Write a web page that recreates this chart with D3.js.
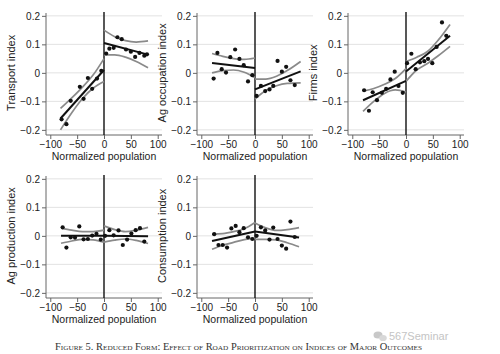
<!DOCTYPE html>
<html>
<head>
<meta charset="utf-8">
<script src="https://cdn.jsdelivr.net/npm/d3@7"></script>
<style>
  body { margin: 0; background: #fff; }
  svg { display: block; font-family: 'Liberation Sans', Arial, sans-serif; }
</style>
</head>
<body>
<div id="root"></div>
<script>
// ---- data ----
const yTicks = [-0.2, -0.1, 0, 0.1, 0.2];
const xTicks = [-100, -50, 0, 50, 100];
const xLabel = 'Normalized population';
const caption = 'Figure 5. Reduced Form: Effect of Road Prioritization on Indices of Major Outcomes';

const titles = ['Transport index', 'Ag occupation index', 'Firms index', 'Ag production index', 'Consumption index'];

// binned means
const transportPts = [[-79, -0.163], [-70, -0.18], [-62, -0.098], [-45, -0.049], [-38, -0.091], [-30, -0.018], [-22, -0.056], [-13, -0.02], [-5, 0.007],
  [4, 0.068], [10, 0.085], [18, 0.088], [25, 0.125], [33, 0.118], [41, 0.082], [50, 0.074], [58, 0.056], [66, 0.07], [75, 0.06], [80, 0.065]];
const agOccPts = [[-77, -0.02], [-70, 0.07], [-62, 0.013], [-54, 0.001], [-46, 0.055], [-37, 0.082], [-29, 0.049], [-21, 0.027], [-13, -0.03], [-5, -0.008],
  [3, -0.081], [11, -0.046], [19, -0.064], [27, -0.058], [34, -0.046], [42, 0.042], [50, 0.004], [58, 0.021], [66, -0.026], [74, -0.043]];
const firmsPts = [[-78, -0.061], [-69, -0.133], [-62, -0.068], [-54, -0.096], [-45, -0.07], [-37, -0.056], [-29, -0.023], [-21, 0.004], [-14, -0.046], [-6, -0.07],
  [2, 0.034], [10, 0.067], [18, 0.013], [26, 0.037], [34, 0.041], [41, 0.049], [49, 0.034], [57, 0.091], [67, 0.177], [75, 0.13]];
const agProdPts = [[-77, 0.03], [-70, -0.041], [-62, -0.005], [-54, -0.006], [-46, 0.033], [-38, -0.012], [-30, -0.011], [-22, 0.001], [-14, 0.007], [-6, -0.013],
  [2, 0.0], [10, 0.02], [18, 0.002], [27, 0.019], [35, -0.032], [43, -0.013], [51, 0.008], [59, 0.02], [67, 0.027], [75, -0.02]];
const consPts = [[-76, 0.006], [-68, -0.032], [-60, -0.032], [-52, -0.041], [-44, 0.026], [-36, 0.035], [-29, 0.013], [-21, 0.027], [-13, -0.005], [-5, -0.011],
  [3, 0.0], [11, 0.03], [19, 0.019], [27, -0.013], [34, 0.029], [42, -0.011], [50, -0.034], [58, -0.045], [66, 0.05], [74, -0.004]];

// fitted lines, left and right of the cutoff
const transportFit = [[[-81, -0.16], [0, 0.01]], [[0, 0.105], [82, 0.064]]];
const agOccFit = [[[-80, 0.035], [0, 0.017]], [[0, -0.058], [85, 0.005]]];
const firmsFit = [[[-80, -0.096], [0, -0.028]], [[0, 0.005], [82, 0.13]]];
const agProdFit = [[[-80, 0.0], [0, 0.0]], [[0, 0.0], [82, -0.001]]];
const consFit = [[[-80, -0.018], [0, 0.015]], [[0, 0.015], [82, -0.006]]];

// confidence bands: [left upper, left lower, right upper, right lower]
const transportCI = [
  [[-81, -0.125], [-60, -0.088], [-40, -0.05], [-20, -0.007], [0, 0.05]],
  [[-81, -0.2], [-60, -0.14], [-40, -0.09], [-20, -0.053], [0, -0.03]],
  [[0, 0.15], [20, 0.127], [40, 0.113], [60, 0.108], [82, 0.112]],
  [[0, 0.063], [20, 0.063], [40, 0.055], [60, 0.04], [82, 0.018]]];
const agOccCI = [
  [[-80, 0.068], [-60, 0.058], [-40, 0.05], [-20, 0.047], [0, 0.052]],
  [[-80, 0.0], [-60, 0.008], [-40, 0.01], [-20, 0.002], [0, -0.017]],
  [[0, -0.022], [20, -0.022], [40, -0.012], [60, 0.008], [85, 0.04]],
  [[0, -0.092], [20, -0.062], [40, -0.045], [60, -0.037], [85, -0.035]]];
const firmsCI = [
  [[-80, -0.064], [-60, -0.055], [-40, -0.04], [-20, -0.02], [0, 0.015]],
  [[-80, -0.135], [-60, -0.1], [-40, -0.072], [-20, -0.06], [0, -0.067]],
  [[0, 0.04], [20, 0.055], [40, 0.075], [60, 0.115], [82, 0.17]],
  [[0, -0.03], [20, 0.01], [40, 0.033], [60, 0.06], [82, 0.093]]];
const agProdCI = [
  [[-80, 0.027], [-60, 0.02], [-40, 0.015], [-20, 0.015], [0, 0.02]],
  [[-80, -0.026], [-60, -0.018], [-40, -0.012], [-20, -0.014], [0, -0.022]],
  [[0, 0.035], [20, 0.022], [40, 0.015], [60, 0.02], [82, 0.03]],
  [[0, -0.022], [20, -0.015], [40, -0.011], [60, -0.016], [82, -0.027]]];
const consCI = [
  [[-80, 0.006], [-60, 0.008], [-40, 0.015], [-20, 0.025], [0, 0.047]],
  [[-80, -0.047], [-60, -0.033], [-40, -0.023], [-20, -0.013], [0, -0.008]],
  [[0, 0.045], [20, 0.028], [40, 0.019], [60, 0.022], [82, 0.029]],
  [[0, -0.012], [20, -0.012], [40, -0.014], [60, -0.024], [82, -0.038]]];

const panelPts = [transportPts, agOccPts, firmsPts, agProdPts, consPts];
const panelFit = [transportFit, agOccFit, firmsFit, agProdFit, consFit];
const panelCI = [transportCI, agOccCI, firmsCI, agProdCI, consCI];

// ---- layout ----
const width = 500;
const height = 354;
const colLeft = [46, 197, 348];
const rowTop = [13, 176];
const plotW = 116;
const plotH = 122;

const svg = d3.select('#root')
  .append('svg')
  .attr('width', width)
  .attr('height', height)
  .attr('viewBox', [0, 0, width, height]);

svg.append('rect').attr('width', width).attr('height', height).attr('fill', '#fff');

function drawPanel(i) {
  const left = colLeft[i % 3];
  const top = rowTop[Math.floor(i / 3)];

  const xScale = d3.scaleLinear().domain([-108, 108]).range([left, left + plotW]);
  const yScale = d3.scaleLinear().domain([-0.218, 0.21]).range([top + plotH, top]);

  const g = svg.append('g');

  // grid
  g.append('g')
    .selectAll('line')
    .data(yTicks)
    .join('line')
    .attr('x1', left)
    .attr('x2', left + plotW)
    .attr('y1', d => yScale(d))
    .attr('y2', d => yScale(d))
    .attr('stroke', '#e2e2e2')
    .attr('stroke-width', 1);

  // axes
  const yAxis = d3.axisLeft(yScale)
    .tickValues(yTicks)
    .tickSize(4)
    .tickPadding(2)
    .tickFormat(d => d === 0 ? '0' : d3.format('.1f')(d).replace('-', '\u2212'));
  const xAxis = d3.axisBottom(xScale)
    .tickValues(xTicks)
    .tickSize(4)
    .tickPadding(2)
    .tickFormat(d => String(d).replace('-', '\u2212'));

  const yAxisGroup = g.append('g')
    .attr('transform', `translate(${left},0)`)
    .call(yAxis);
  const xAxisGroup = g.append('g')
    .attr('transform', `translate(0,${top + plotH})`)
    .call(xAxis);

  [yAxisGroup, xAxisGroup].forEach(a => {
    a.select('.domain').attr('stroke', '#666').attr('stroke-width', 1)
      .attr('d', a === yAxisGroup
        ? `M0,${top}V${top + plotH}`
        : `M${left},0H${left + plotW}`);
    a.selectAll('.tick line').attr('stroke', '#666');
    a.selectAll('.tick text').attr('fill', '#222').attr('font-size', 10);
  });

  // titles
  g.append('text')
    .attr('transform', `translate(${left - 31},${yScale(0)}) rotate(-90)`)
    .attr('text-anchor', 'middle')
    .attr('font-size', 11)
    .attr('fill', '#222')
    .text(titles[i]);

  g.append('text')
    .attr('x', xScale(0))
    .attr('y', top + plotH + 25)
    .attr('text-anchor', 'middle')
    .attr('font-size', 10.5)
    .attr('fill', '#222')
    .text(xLabel);

  // cutoff line
  g.append('line')
    .attr('x1', xScale(0))
    .attr('x2', xScale(0))
    .attr('y1', top - 1)
    .attr('y2', top + plotH)
    .attr('stroke', '#111')
    .attr('stroke-width', 1.4);

  const line = d3.line()
    .x(d => xScale(d[0]))
    .y(d => yScale(d[1]))
    .curve(d3.curveMonotoneX);

  // confidence bands
  g.append('g')
    .selectAll('path')
    .data(panelCI[i])
    .join('path')
    .attr('d', line)
    .attr('fill', 'none')
    .attr('stroke', '#8a8a8a')
    .attr('stroke-width', 1.7);

  // fits
  g.append('g')
    .selectAll('path')
    .data(panelFit[i])
    .join('path')
    .attr('d', line)
    .attr('fill', 'none')
    .attr('stroke', '#111')
    .attr('stroke-width', 2);

  // binned points
  g.append('g')
    .selectAll('circle')
    .data(panelPts[i])
    .join('circle')
    .attr('cx', d => xScale(d[0]))
    .attr('cy', d => yScale(d[1]))
    .attr('r', 2.1)
    .attr('fill', '#111');
}

d3.range(5).forEach(drawPanel);

// caption
svg.append('text')
  .attr('x', 55)
  .attr('y', 350)
  .attr('font-family', "'Liberation Serif', 'DejaVu Serif', serif")
  .attr('font-size', 10)
  .style('font-variant', 'small-caps')
  .attr('textLength', 367)
  .attr('lengthAdjust', 'spacingAndGlyphs')
  .attr('fill', '#333')
  .text(caption);

// watermark
const mark = svg.append('g').attr('fill', '#c8c8c8');
mark.append('ellipse').attr('cx', 378).attr('cy', 335).attr('rx', 4.5).attr('ry', 3.6);
mark.append('ellipse').attr('cx', 383).attr('cy', 338).attr('rx', 3.8).attr('ry', 3.1).attr('fill', '#d8d8d8');
mark.append('text')
  .attr('x', 389)
  .attr('y', 340)
  .attr('font-size', 11)
  .attr('fill', '#c4c4c4')
  .text('567Seminar');
</script>
</body>
</html>
